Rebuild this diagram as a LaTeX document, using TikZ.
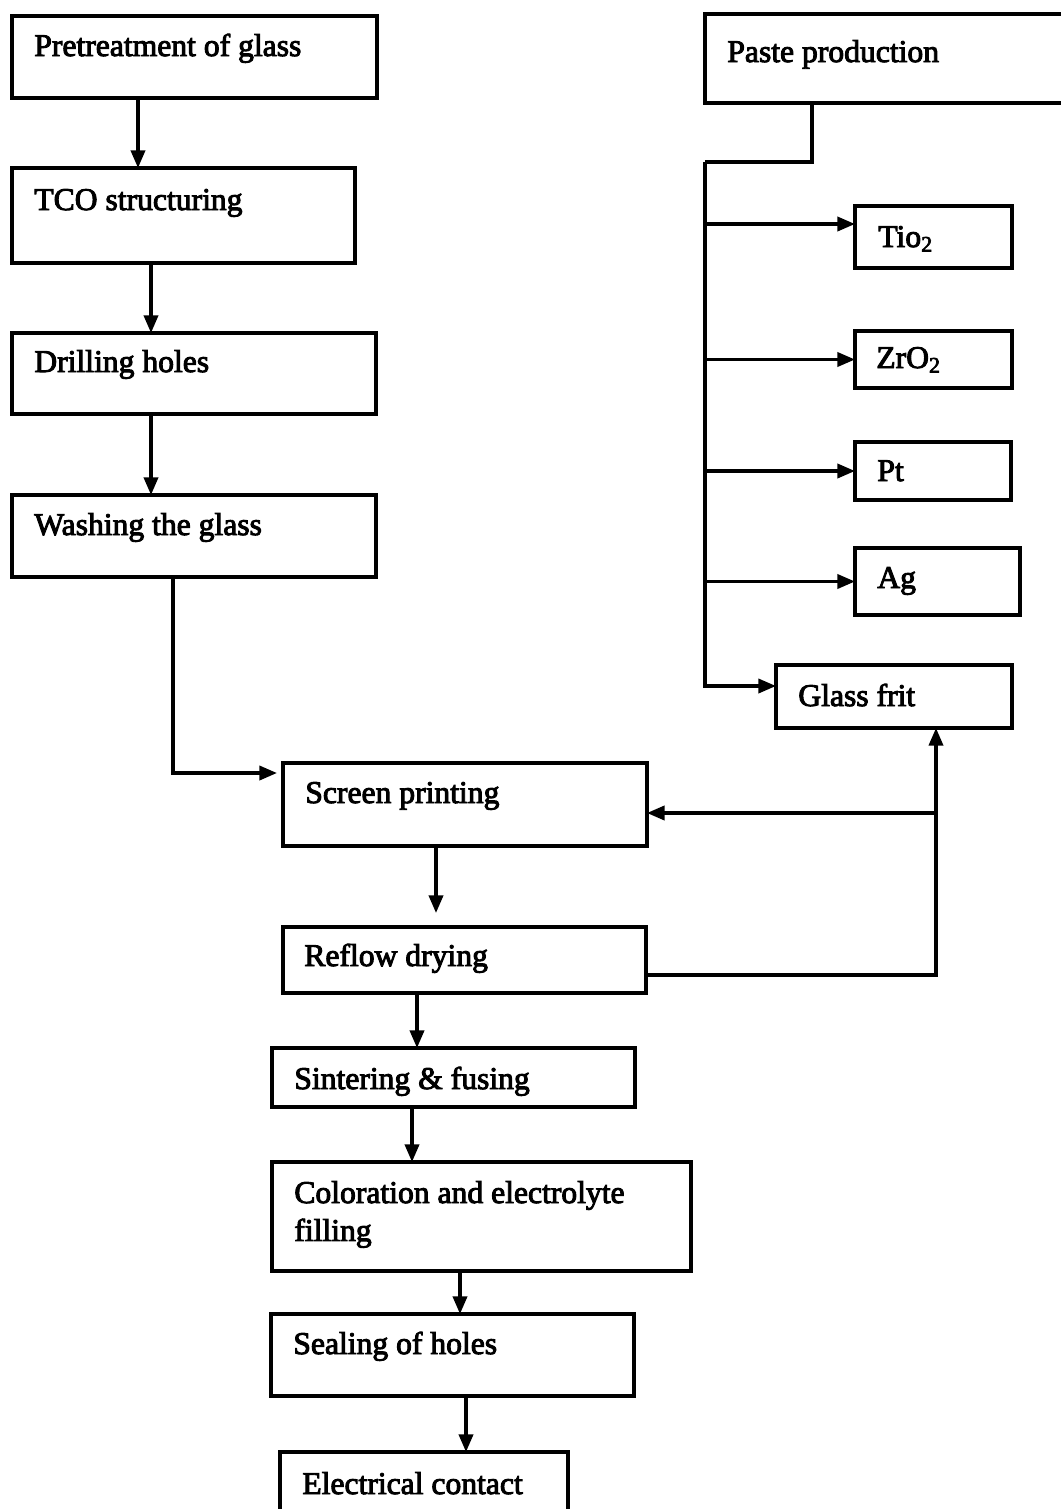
\documentclass[tikz,border=0pt]{standalone}
\usepackage{fontspec}
\setmainfont{Liberation Serif}
\newfontfamily\inkfont[BoldFont=Liberation Serif, BoldFeatures={FakeBold=3}]{Liberation Serif}
\usepackage{tikz}
\usetikzlibrary{calc,arrows.meta}
\tikzset{
	stage/.style={draw, line width=2pt, anchor=north west, inner sep=0pt, outer sep=0pt},
	lbl/.style={anchor=base west, inner sep=0pt, font=\inkfont\bfseries\fontsize{18}{21.6}\selectfont},
	flow/.style={line width=1.9pt, -{Triangle[length=10pt, width=8pt]}},
	wire/.style={line width=1.9pt}
}

\begin{document}
\begin{tikzpicture}[x=0.02cm, y=-0.02cm]
			%%%%% START %%%%%
			\useasboundingbox (0, 0) rectangle (1061, 1509);
			
			% left column
			\node[stage, minimum width=7.30cm, minimum height=1.64cm] (pre) at (12, 16) {};
			\node[lbl] (preT) at ($(pre.north west)+(22, 40)$) {Pretreatment of glass};
			
			\node[stage, minimum width=6.86cm, minimum height=1.90cm] (tco) at (12, 168) {};
			\node[lbl] (tcoT) at ($(tco.north west)+(22, 42)$) {TCO structuring};
			
			\node[stage, minimum width=7.28cm, minimum height=1.62cm] (drill) at (12, 333) {};
			\node[lbl] (drillT) at ($(drill.north west)+(22, 39)$) {Drilling holes};
			
			\node[stage, minimum width=7.28cm, minimum height=1.64cm] (wash) at (12, 495) {};
			\node[lbl] (washT) at ($(wash.north west)+(22, 40)$) {Washing the glass};
			
			% paste branch
			\node[stage, minimum width=7.60cm, minimum height=1.78cm] (paste) at (705, 14) {};
			\node[lbl] (pasteT) at ($(paste.north west)+(22, 48)$) {Paste production};
			
			\node[stage, minimum width=3.14cm, minimum height=1.24cm] (tio) at (855, 206) {};
			\node[lbl] (tioT) at ($(tio.north west)+(23, 41)$) {Tio\textsubscript{2}};
			
			\node[stage, minimum width=3.14cm, minimum height=1.14cm] (zro) at (855, 331) {};
			\node[lbl] (zroT) at ($(zro.north west)+(21, 37)$) {ZrO\textsubscript{2}};
			
			\node[stage, minimum width=3.12cm, minimum height=1.16cm] (pt) at (855, 442) {};
			\node[lbl] (ptT) at ($(pt.north west)+(22, 39)$) {Pt};
			
			\node[stage, minimum width=3.30cm, minimum height=1.34cm] (ag) at (855, 548) {};
			\node[lbl] (agT) at ($(ag.north west)+(22, 40)$) {Ag};
			
			\node[stage, minimum width=4.72cm, minimum height=1.26cm] (frit) at (776, 665) {};
			\node[lbl] (fritT) at ($(frit.north west)+(22, 41)$) {Glass frit};
			
			% lower column
			\node[stage, minimum width=7.28cm, minimum height=1.66cm] (screen) at (283, 763) {};
			\node[lbl] (screenT) at ($(screen.north west)+(22, 40)$) {Screen printing};
			
			\node[stage, minimum width=7.26cm, minimum height=1.32cm] (reflow) at (283, 927) {};
			\node[lbl] (reflowT) at ($(reflow.north west)+(21, 39)$) {Reflow drying};
			
			\node[stage, minimum width=7.26cm, minimum height=1.18cm] (sinter) at (272, 1048) {};
			\node[lbl] (sinterT) at ($(sinter.north west)+(22, 41)$) {Sintering \& fusing};
			
			\node[stage, minimum width=8.38cm, minimum height=2.18cm] (color) at (272, 1162) {};
			\node[lbl] (colorT) at ($(color.north west)+(22, 41)$) {\parbox[t]{7.6cm}{Coloration and electrolyte\\filling}};
			
			\node[stage, minimum width=7.26cm, minimum height=1.64cm] (seal) at (271, 1314) {};
			\node[lbl] (sealT) at ($(seal.north west)+(22, 40)$) {Sealing of holes};
			
			\node[stage, minimum width=5.76cm, minimum height=1.80cm] (elec) at (280, 1452) {};
			\node[lbl] (elecT) at ($(elec.north west)+(22, 42)$) {Electrical contact};
			
			% arrows, left column
			\draw[flow] ($(pre.south west)+(126, 0)$) -- ($(tco.north west)+(126, 0)$);
			\draw[flow] ($(tco.south west)+(139, 0)$) -- ($(drill.north west)+(139, 0)$);
			\draw[flow] ($(drill.south west)+(139, 0)$) -- ($(wash.north west)+(139, 0)$);
			\draw[flow] ($(wash.south west)+(161, 0)$) |- ($(screen.north west)+(-6, 10)$);
			
			% arrows, paste branch
			\coordinate (bus) at (705, 162);
			\draw[wire] ($(paste.south west)+(107, 0)$) |- (bus);
			\draw[flow] (bus) |- ($(frit.north west)+(0, 21)$);
			\draw[flow] (bus |- tio.north west) ++(0, 18) -- ($(tio.north west)+(0, 18)$);
			\draw[flow] (bus |- zro.west) -- (zro.west);
			\draw[flow] (bus |- pt.west) -- (pt.west);
			\draw[flow] (bus |- ag.west) -- (ag.west);
			
			% arrows, feedback
			\coordinate (fb) at ($(frit.south west)+(160, 85)$);
			\draw[flow] ($(reflow.north east)+(0, 48)$) -| ($(frit.south west)+(160, 0)$);
			\draw[flow] (fb) -- (screen.east |- fb);
			
			% arrows, lower column
			\draw[flow, shorten >=0.28cm] ($(screen.south west)+(153, 0)$) -- ($(reflow.north west)+(153, 0)$);
			\draw[flow] ($(reflow.south west)+(134, 0)$) -- ($(sinter.north west)+(145, 0)$);
			\draw[flow] ($(sinter.south west)+(140, 0)$) -- ($(color.north west)+(140, 0)$);
			\draw[flow] ($(color.south west)+(188, 0)$) -- ($(seal.north west)+(189, 0)$);
			\draw[flow] ($(seal.south west)+(195, 0)$) -- ($(elec.north west)+(186, 0)$);
			
			%%%%% END %%%%%
\end{tikzpicture}
\end{document}
